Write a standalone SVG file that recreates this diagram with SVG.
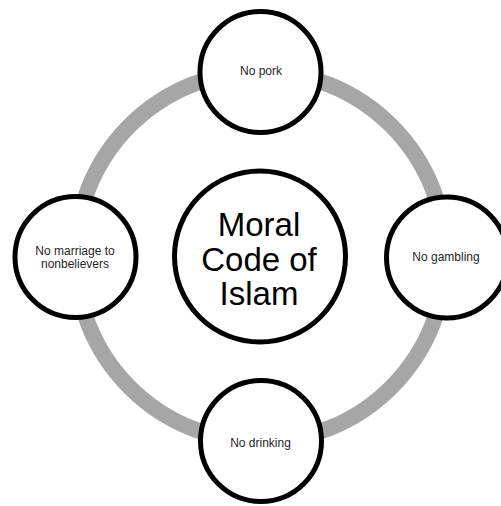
<svg xmlns="http://www.w3.org/2000/svg" width="501" height="506" viewBox="0 0 501 506">
<style>
.node{fill:#fff;stroke:#000;stroke-width:5}
.lbl{font-family:"Liberation Sans",Arial,sans-serif;font-size:12px;fill:#262626;text-anchor:middle}
.big{font-family:"Liberation Sans",Arial,sans-serif;font-size:33px;fill:#000;text-anchor:middle}
</style>
<rect width="501" height="506" fill="#fff"/>
<g id="connectors">
<circle cx="260.5" cy="256.5" r="185" fill="none" stroke="#a6a6a6" stroke-width="16"/>
</g>
<g id="center">
<circle class="node" cx="260" cy="256.5" r="85.5"/>
<text class="big" x="259" y="236">Moral</text>
<text class="big" x="259" y="271">Code of</text>
<text class="big" x="259" y="305">Islam</text>
</g>
<g id="pork">
<circle class="node" cx="260.5" cy="72" r="60.5"/>
<text class="lbl" x="261" y="75">No pork</text>
</g>
<g id="gambling">
<circle class="node" cx="447" cy="257.5" r="60.5"/>
<text class="lbl" x="446" y="261">No gambling</text>
</g>
<g id="drinking">
<circle class="node" cx="261" cy="441" r="60.5"/>
<text class="lbl" x="260.5" y="446.5">No drinking</text>
</g>
<g id="marriage">
<circle class="node" cx="75.5" cy="257" r="60.5"/>
<text class="lbl" x="75" y="254.5">No marriage to</text>
<text class="lbl" x="75" y="268">nonbelievers</text>
</g>
</svg>
